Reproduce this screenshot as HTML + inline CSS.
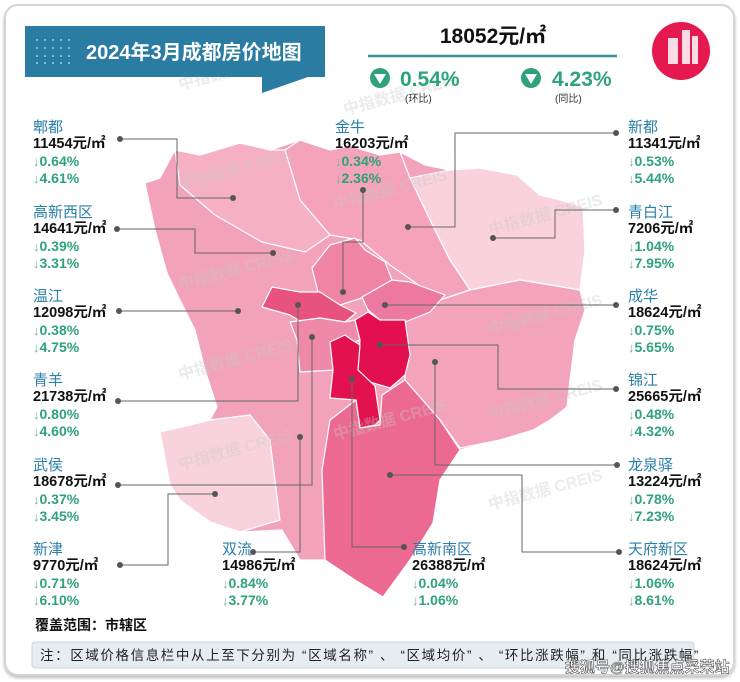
<!DOCTYPE html>
<html><head><meta charset="utf-8"><style>
*{margin:0;padding:0;box-sizing:border-box}
body{width:740px;height:682px;background:#fff;position:relative;overflow:hidden;font-family:"Liberation Sans","Noto Sans CJK SC",sans-serif}
.card{position:absolute;left:4px;top:4px;width:731px;height:672px;border:2px solid #d4d4d4;border-radius:14px;box-shadow:0 2px 3px #bbb}
.lab{position:absolute;line-height:17px;font-size:14px}
.lab .n{color:#2b7fa9;font-size:15px}
.lab .p{color:#111;font-weight:bold;font-size:14.5px}
.lab .g{color:#2ea27a;font-size:14px;font-weight:bold}
.lab .g b{font-weight:normal;color:#7ab;font-size:13px}
svg{position:absolute;left:0;top:0}
</style></head><body>
<div class="card"></div>
<svg width="740" height="682" viewBox="0 0 740 682">
<g stroke="#fff" stroke-width="1.2" stroke-linejoin="round">
<polygon fill="#f2a3bb" points="145,183 160,178 175,150 200,155 240,143 270,150 300,140 330,150 350,146 380,155 400,152 425,165 450,170 480,168 517,175 540,195 560,200 583,207 585,250 580,290 585,310 575,340 570,380 567,407 550,420 533,430 500,440 460,450 440,480 433,523 410,560 383,597 355,580 327,560 300,560 282,530 240,532 210,522 180,500 170,485 160,432 190,425 210,420 217,407 205,370 195,330 180,300 167,273 155,230"/>
<polygon fill="#f9d2dd" points="410,178 450,170 480,168 517,175 540,195 560,200 583,207 585,250 580,290 520,280 470,290 450,260 430,220"/>
<polygon fill="#f4a3bb" points="285,150 300,140 330,150 350,146 380,155 400,152 410,178 430,220 450,260 470,290 440,300 390,265 360,240 330,235 300,200"/>
<polygon fill="#f5b0c4" points="175,150 200,155 240,143 270,150 285,150 300,200 330,235 305,252 262,242 215,215 180,185"/>
<polygon fill="#f3a3bb" points="405,320 440,300 470,290 520,280 580,290 585,310 575,340 570,380 567,407 550,420 533,430 500,440 460,448 440,420 405,380"/>
<polygon fill="#ef84a5" points="330,245 355,238 365,250 385,262 392,280 365,297 340,305 318,292 312,268"/>
<polygon fill="#ee79a0" points="362,297 392,280 410,282 445,295 430,312 405,322 380,320 368,310"/>
<polygon fill="#e8527e" points="262,307 272,287 300,292 320,292 340,305 356,313 345,322 320,318 300,321 290,315"/>
<polygon fill="#ef89a9" points="290,322 320,318 345,322 355,320 360,340 345,345 335,370 300,372 297,340"/>
<polygon fill="#e40f4e" points="355,320 368,312 380,320 405,320 410,355 405,375 390,388 370,382 358,370 360,340"/>
<polygon fill="#e3124f" points="330,342 345,335 352,340 360,345 358,370 375,386 380,420 375,425 360,428 356,400 330,398 333,370"/>
<polygon fill="#ec6a91" points="356,400 360,428 380,425 382,395 405,380 440,420 460,450 440,480 433,523 410,560 383,597 355,580 325,560 322,470 330,420"/>
<polygon fill="#f8d3de" points="160,432 190,425 210,420 250,415 270,440 280,520 240,532 210,522 180,500 170,485"/>
</g>
<g fill="#c8c8c8" opacity="0.35" font-size="16" font-weight="bold" font-family="Liberation Sans,Noto Sans CJK SC,sans-serif">
<text transform="translate(180,190) rotate(-15)">中指数据 CREIS</text>
<text transform="translate(335,210) rotate(-15)">中指数据 CREIS</text>
<text transform="translate(180,290) rotate(-15)">中指数据 CREIS</text>
<text transform="translate(490,235) rotate(-15)">中指数据 CREIS</text>
<text transform="translate(180,380) rotate(-15)">中指数据 CREIS</text>
<text transform="translate(490,335) rotate(-15)">中指数据 CREIS</text>
<text transform="translate(335,440) rotate(-15)">中指数据 CREIS</text>
<text transform="translate(180,470) rotate(-15)">中指数据 CREIS</text>
<text transform="translate(490,420) rotate(-15)">中指数据 CREIS</text>
<text transform="translate(490,510) rotate(-15)">中指数据 CREIS</text>
<text transform="translate(180,90) rotate(-15)">中指数据 CREIS</text>
<text transform="translate(345,115) rotate(-15)">中指数据 CREIS</text>
</g>
<g stroke="#666" stroke-width="1" fill="none">
<polyline points="120,139 177,139 177,198 233,198"/>
<polyline points="363,190 363,242 343,242 343,292"/>
<polyline points="616,133 455,133 455,227 408,227"/>
<polyline points="117,229 195,229 195,253 273,253"/>
<polyline points="616,210 555,210 555,238 493,238"/>
<polyline points="119,311 238,311"/>
<polyline points="616,305 385,305"/>
<polyline points="118,401 298,401 298,305"/>
<polyline points="616,389 498,389 498,345 380,345"/>
<polyline points="118,485 312,485 312,337"/>
<polyline points="120,565 168,565 168,494 215,494"/>
<polyline points="253,552 300,552 300,437"/>
<polyline points="404,547 352,547 352,379"/>
<polyline points="617,465 435,465 435,362"/>
<polyline points="619,552 522,552 522,475 390,475"/>
</g>
<g fill="#555">
<circle cx="120" cy="139" r="3"/><circle cx="233" cy="198" r="3"/>
<circle cx="363" cy="190" r="3"/><circle cx="343" cy="292" r="3"/>
<circle cx="616" cy="133" r="3"/><circle cx="408" cy="227" r="3"/>
<circle cx="117" cy="229" r="3"/><circle cx="273" cy="253" r="3"/>
<circle cx="616" cy="210" r="3"/><circle cx="493" cy="238" r="3"/>
<circle cx="119" cy="311" r="3"/><circle cx="238" cy="311" r="3"/>
<circle cx="616" cy="305" r="3"/><circle cx="385" cy="305" r="3"/>
<circle cx="118" cy="401" r="3"/><circle cx="298" cy="305" r="3"/>
<circle cx="616" cy="389" r="3"/><circle cx="380" cy="345" r="3"/>
<circle cx="118" cy="485" r="3"/><circle cx="312" cy="337" r="3"/>
<circle cx="120" cy="565" r="3"/><circle cx="215" cy="494" r="3"/>
<circle cx="253" cy="552" r="3"/><circle cx="300" cy="437" r="3"/>
<circle cx="404" cy="547" r="3"/><circle cx="352" cy="379" r="3"/>
<circle cx="617" cy="465" r="3"/><circle cx="435" cy="362" r="3"/>
<circle cx="619" cy="552" r="3"/><circle cx="390" cy="475" r="3"/>
</g>
<polygon fill="#2a7ca2" points="25,26 325,26 325,77 308,77 262,93 262,77 25,77"/>
<g fill="#9fd0e6">
<circle cx="37" cy="40" r="1"/><circle cx="45" cy="40" r="1"/><circle cx="53" cy="40" r="1"/><circle cx="61" cy="40" r="1"/><circle cx="69" cy="40" r="1"/>
<circle cx="37" cy="48" r="1"/><circle cx="45" cy="48" r="1"/><circle cx="53" cy="48" r="1"/><circle cx="61" cy="48" r="1"/><circle cx="69" cy="48" r="1"/>
<circle cx="37" cy="56" r="1"/><circle cx="45" cy="56" r="1"/><circle cx="53" cy="56" r="1"/><circle cx="61" cy="56" r="1"/><circle cx="69" cy="56" r="1"/>
<circle cx="37" cy="63" r="1"/><circle cx="45" cy="63" r="1"/><circle cx="53" cy="63" r="1"/><circle cx="61" cy="63" r="1"/><circle cx="69" cy="63" r="1"/>
</g>
<text x="86" y="59" fill="#fff" font-size="20" font-weight="bold" font-family="Liberation Sans,Noto Sans CJK SC,sans-serif">2024年3月成都房价地图</text>
<text x="493" y="43" fill="#111" font-size="21" font-weight="bold" text-anchor="middle" font-family="Liberation Sans,Noto Sans CJK SC,sans-serif">18052元/㎡</text>
<line x1="368" y1="56" x2="617" y2="56" stroke="#3a8f9a" stroke-width="2.5"/>
<circle cx="380" cy="78" r="10" fill="#2ea27a"/><polygon points="374,74 386,74 380,84" fill="#fff"/>
<circle cx="531" cy="78" r="10" fill="#2ea27a"/><polygon points="525,74 537,74 531,84" fill="#fff"/>
<g font-family="Liberation Sans,Noto Sans CJK SC,sans-serif">
<text x="400" y="86" fill="#2ea27a" font-size="21" font-weight="bold">0.54%</text>
<text x="552" y="86" fill="#2ea27a" font-size="21" font-weight="bold">4.23%</text>
<text x="405" y="102" fill="#333" font-size="10">(环比)</text>
<text x="555" y="102" fill="#333" font-size="10">(同比)</text>
</g>
<circle cx="681" cy="51" r="29" fill="#e5184f"/>
<g fill="#fff" opacity="0.85"><rect x="668" y="38" width="10" height="26"/><rect x="682" y="30" width="8" height="34"/><rect x="692" y="36" width="6" height="28"/></g>
<text x="35" y="630" fill="#111" font-size="14" font-weight="bold" font-family="Liberation Sans,Noto Sans CJK SC,sans-serif">覆盖范围：市辖区</text>
<rect x="32" y="642" width="662" height="26" rx="3" fill="#e6edf0" stroke="#c8d3d8"/>
<text x="40" y="660" fill="#222" font-size="13.5" letter-spacing="1.6" font-family="Liberation Sans,Noto Sans CJK SC,sans-serif">注：区域价格信息栏中从上至下分别为 “区域名称” 、 “区域均价” 、 “环比涨跌幅” 和 “同比涨跌幅”</text>
<text x="565" y="672" fill="#fff" stroke="#555" stroke-width="0.6" font-size="15" font-weight="bold" font-family="Liberation Sans,Noto Sans CJK SC,sans-serif">搜狐号@搜狐焦点采荣站</text>
</svg>

<div class="lab" style="left:33px;top:119px"><div class="n">郫都</div><div class="p">11454元/㎡</div><div class="g"><b>↓</b>0.64%</div><div class="g"><b>↓</b>4.61%</div></div>
<div class="lab" style="left:33px;top:204px"><div class="n">高新西区</div><div class="p">14641元/㎡</div><div class="g"><b>↓</b>0.39%</div><div class="g"><b>↓</b>3.31%</div></div>
<div class="lab" style="left:33px;top:288px"><div class="n">温江</div><div class="p">12098元/㎡</div><div class="g"><b>↓</b>0.38%</div><div class="g"><b>↓</b>4.75%</div></div>
<div class="lab" style="left:33px;top:372px"><div class="n">青羊</div><div class="p">21738元/㎡</div><div class="g"><b>↓</b>0.80%</div><div class="g"><b>↓</b>4.60%</div></div>
<div class="lab" style="left:33px;top:457px"><div class="n">武侯</div><div class="p">18678元/㎡</div><div class="g"><b>↓</b>0.37%</div><div class="g"><b>↓</b>3.45%</div></div>
<div class="lab" style="left:33px;top:541px"><div class="n">新津</div><div class="p">9770元/㎡</div><div class="g"><b>↓</b>0.71%</div><div class="g"><b>↓</b>6.10%</div></div>
<div class="lab" style="left:335px;top:119px"><div class="n">金牛</div><div class="p">16203元/㎡</div><div class="g"><b>↓</b>0.34%</div><div class="g"><b>↓</b>2.36%</div></div>
<div class="lab" style="left:222px;top:541px"><div class="n">双流</div><div class="p">14986元/㎡</div><div class="g"><b>↓</b>0.84%</div><div class="g"><b>↓</b>3.77%</div></div>
<div class="lab" style="left:412px;top:541px"><div class="n">高新南区</div><div class="p">26388元/㎡</div><div class="g"><b>↓</b>0.04%</div><div class="g"><b>↓</b>1.06%</div></div>
<div class="lab" style="left:628px;top:119px"><div class="n">新都</div><div class="p">11341元/㎡</div><div class="g"><b>↓</b>0.53%</div><div class="g"><b>↓</b>5.44%</div></div>
<div class="lab" style="left:628px;top:204px"><div class="n">青白江</div><div class="p">7206元/㎡</div><div class="g"><b>↓</b>1.04%</div><div class="g"><b>↓</b>7.95%</div></div>
<div class="lab" style="left:628px;top:288px"><div class="n">成华</div><div class="p">18624元/㎡</div><div class="g"><b>↓</b>0.75%</div><div class="g"><b>↓</b>5.65%</div></div>
<div class="lab" style="left:628px;top:372px"><div class="n">锦江</div><div class="p">25665元/㎡</div><div class="g"><b>↓</b>0.48%</div><div class="g"><b>↓</b>4.32%</div></div>
<div class="lab" style="left:628px;top:457px"><div class="n">龙泉驿</div><div class="p">13224元/㎡</div><div class="g"><b>↓</b>0.78%</div><div class="g"><b>↓</b>7.23%</div></div>
<div class="lab" style="left:628px;top:541px"><div class="n">天府新区</div><div class="p">18624元/㎡</div><div class="g"><b>↓</b>1.06%</div><div class="g"><b>↓</b>8.61%</div></div>
</body></html>
